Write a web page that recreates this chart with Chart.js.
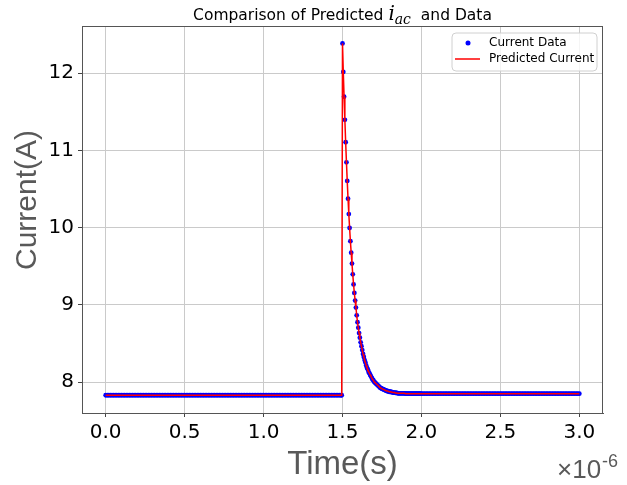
<!DOCTYPE html>
<html>
<head>
<meta charset="utf-8">
<script src="https://cdn.jsdelivr.net/npm/chart.js"></script>
<style>
  body { margin: 0; background: #fff; }
</style>
</head>
<body>
<canvas id="currentChart" width="627" height="485"></canvas>

<script>
  // time in microseconds (axis shows x 1e-6), current in A
  const timeBefore = [
    0.00, 0.01, 0.02, 0.03, 0.04, 0.05, 0.06, 0.07, 0.08, 0.09,
    0.10, 0.11, 0.12, 0.13, 0.14, 0.15, 0.16, 0.17, 0.18, 0.19,
    0.20, 0.21, 0.22, 0.23, 0.24, 0.25, 0.26, 0.27, 0.28, 0.29,
    0.30, 0.31, 0.32, 0.33, 0.34, 0.35, 0.36, 0.37, 0.38, 0.39,
    0.40, 0.41, 0.42, 0.43, 0.44, 0.45, 0.46, 0.47, 0.48, 0.49,
    0.50, 0.51, 0.52, 0.53, 0.54, 0.55, 0.56, 0.57, 0.58, 0.59,
    0.60, 0.61, 0.62, 0.63, 0.64, 0.65, 0.66, 0.67, 0.68, 0.69,
    0.70, 0.71, 0.72, 0.73, 0.74, 0.75, 0.76, 0.77, 0.78, 0.79,
    0.80, 0.81, 0.82, 0.83, 0.84, 0.85, 0.86, 0.87, 0.88, 0.89,
    0.90, 0.91, 0.92, 0.93, 0.94, 0.95, 0.96, 0.97, 0.98, 0.99,
    1.00, 1.01, 1.02, 1.03, 1.04, 1.05, 1.06, 1.07, 1.08, 1.09,
    1.10, 1.11, 1.12, 1.13, 1.14, 1.15, 1.16, 1.17, 1.18, 1.19,
    1.20, 1.21, 1.22, 1.23, 1.24, 1.25, 1.26, 1.27, 1.28, 1.29,
    1.30, 1.31, 1.32, 1.33, 1.34, 1.35, 1.36, 1.37, 1.38, 1.39,
    1.40, 1.41, 1.42, 1.43, 1.44, 1.45, 1.46, 1.47, 1.48, 1.49,
    1.495
  ];
  const currentBefore = [
    7.83, 7.83, 7.83, 7.83, 7.83, 7.83, 7.83, 7.83, 7.83, 7.83,
    7.83, 7.83, 7.83, 7.83, 7.83, 7.83, 7.83, 7.83, 7.83, 7.83,
    7.83, 7.83, 7.83, 7.83, 7.83, 7.83, 7.83, 7.83, 7.83, 7.83,
    7.83, 7.83, 7.83, 7.83, 7.83, 7.83, 7.83, 7.83, 7.83, 7.83,
    7.83, 7.83, 7.83, 7.83, 7.83, 7.83, 7.83, 7.83, 7.83, 7.83,
    7.83, 7.83, 7.83, 7.83, 7.83, 7.83, 7.83, 7.83, 7.83, 7.83,
    7.83, 7.83, 7.83, 7.83, 7.83, 7.83, 7.83, 7.83, 7.83, 7.83,
    7.83, 7.83, 7.83, 7.83, 7.83, 7.83, 7.83, 7.83, 7.83, 7.83,
    7.83, 7.83, 7.83, 7.83, 7.83, 7.83, 7.83, 7.83, 7.83, 7.83,
    7.83, 7.83, 7.83, 7.83, 7.83, 7.83, 7.83, 7.83, 7.83, 7.83,
    7.83, 7.83, 7.83, 7.83, 7.83, 7.83, 7.83, 7.83, 7.83, 7.83,
    7.83, 7.83, 7.83, 7.83, 7.83, 7.83, 7.83, 7.83, 7.83, 7.83,
    7.83, 7.83, 7.83, 7.83, 7.83, 7.83, 7.83, 7.83, 7.83, 7.83,
    7.83, 7.83, 7.83, 7.83, 7.83, 7.83, 7.83, 7.83, 7.83, 7.83,
    7.83, 7.83, 7.83, 7.83, 7.83, 7.83, 7.83, 7.83, 7.83, 7.83,
    7.83
  ];

  const timeSpike = [
    1.500, 1.505, 1.510, 1.515, 1.520, 1.525, 1.530, 1.535, 1.540, 1.545,
    1.550, 1.555, 1.560, 1.565, 1.570, 1.575, 1.580, 1.585, 1.590, 1.595,
    1.600, 1.605, 1.610, 1.615, 1.620, 1.625, 1.630, 1.635, 1.640, 1.645,
    1.650, 1.655, 1.660, 1.665, 1.670, 1.675, 1.680, 1.685, 1.690, 1.695,
    1.700, 1.705, 1.710, 1.715, 1.720, 1.725, 1.730, 1.735, 1.740, 1.745,
    1.750, 1.755, 1.760, 1.765, 1.770, 1.775, 1.780, 1.785, 1.790, 1.795,
    1.800, 1.805, 1.810, 1.815, 1.820, 1.825, 1.830, 1.835, 1.840, 1.845,
    1.850, 1.855, 1.860, 1.865, 1.870, 1.875, 1.880, 1.885, 1.890, 1.895,
    1.900, 1.905, 1.910, 1.915, 1.920, 1.925, 1.930, 1.935, 1.940, 1.945,
    1.950, 1.955, 1.960, 1.965, 1.970, 1.975, 1.980, 1.985, 1.990, 1.995,
    2.000
  ];
  const currentSpike = [
    12.385, 12.015, 11.695, 11.395, 11.105, 10.845, 10.605, 10.375, 10.175, 9.995,
    9.825, 9.675, 9.535, 9.395, 9.265, 9.155, 9.055, 8.965, 8.865, 8.775,
    8.705, 8.635, 8.575, 8.515, 8.465, 8.415, 8.365, 8.325, 8.285, 8.255,
    8.215, 8.185, 8.165, 8.135, 8.115, 8.095, 8.075, 8.055, 8.035, 8.025,
    8.005, 7.995, 7.985, 7.975, 7.965, 7.955, 7.945, 7.935, 7.925, 7.920,
    7.915, 7.910, 7.905, 7.900, 7.895, 7.890, 7.885, 7.885, 7.880, 7.875,
    7.875, 7.875, 7.870, 7.870, 7.865, 7.865, 7.865, 7.860, 7.860, 7.860,
    7.855, 7.855, 7.855, 7.855, 7.855, 7.855, 7.855, 7.855, 7.855, 7.855,
    7.850, 7.850, 7.850, 7.850, 7.850, 7.850, 7.850, 7.850, 7.850, 7.850,
    7.850, 7.850, 7.850, 7.850, 7.850, 7.850, 7.850, 7.850, 7.850, 7.850,
    7.850
  ];

  const timeAfter = [
    2.01, 2.02, 2.03, 2.04, 2.05, 2.06, 2.07, 2.08, 2.09, 2.10,
    2.11, 2.12, 2.13, 2.14, 2.15, 2.16, 2.17, 2.18, 2.19, 2.20,
    2.21, 2.22, 2.23, 2.24, 2.25, 2.26, 2.27, 2.28, 2.29, 2.30,
    2.31, 2.32, 2.33, 2.34, 2.35, 2.36, 2.37, 2.38, 2.39, 2.40,
    2.41, 2.42, 2.43, 2.44, 2.45, 2.46, 2.47, 2.48, 2.49, 2.50,
    2.51, 2.52, 2.53, 2.54, 2.55, 2.56, 2.57, 2.58, 2.59, 2.60,
    2.61, 2.62, 2.63, 2.64, 2.65, 2.66, 2.67, 2.68, 2.69, 2.70,
    2.71, 2.72, 2.73, 2.74, 2.75, 2.76, 2.77, 2.78, 2.79, 2.80,
    2.81, 2.82, 2.83, 2.84, 2.85, 2.86, 2.87, 2.88, 2.89, 2.90,
    2.91, 2.92, 2.93, 2.94, 2.95, 2.96, 2.97, 2.98, 2.99, 3.00
  ];
  const currentAfter = [
    7.85, 7.85, 7.85, 7.85, 7.85, 7.85, 7.85, 7.85, 7.85, 7.85,
    7.85, 7.85, 7.85, 7.85, 7.85, 7.85, 7.85, 7.85, 7.85, 7.85,
    7.85, 7.85, 7.85, 7.85, 7.85, 7.85, 7.85, 7.85, 7.85, 7.85,
    7.85, 7.85, 7.85, 7.85, 7.85, 7.85, 7.85, 7.85, 7.85, 7.85,
    7.85, 7.85, 7.85, 7.85, 7.85, 7.85, 7.85, 7.85, 7.85, 7.85,
    7.85, 7.85, 7.85, 7.85, 7.85, 7.85, 7.85, 7.85, 7.85, 7.85,
    7.85, 7.85, 7.85, 7.85, 7.85, 7.85, 7.85, 7.85, 7.85, 7.85,
    7.85, 7.85, 7.85, 7.85, 7.85, 7.85, 7.85, 7.85, 7.85, 7.85,
    7.85, 7.85, 7.85, 7.85, 7.85, 7.85, 7.85, 7.85, 7.85, 7.85,
    7.85, 7.85, 7.85, 7.85, 7.85, 7.85, 7.85, 7.85, 7.85, 7.85
  ];

  const xTickValues = [0.0, 0.5, 1.0, 1.5, 2.0, 2.5, 3.0];
  const yTickValues = [8, 9, 10, 11, 12];

  const timeAll = timeBefore.concat(timeSpike, timeAfter);
  const measured = currentBefore.concat(currentSpike, currentAfter);
  const predicted = measured.slice();

  const toPoints = (ys) => timeAll.map((t, i) => ({ x: t, y: ys[i] }));

  // frame, titles, legend (matplotlib look)
  const decorations = {
    id: "decorations",
    afterDraw(chart) {
      const ctx = chart.ctx;
      const a = chart.chartArea;
      ctx.save();

      // box around the axes
      ctx.strokeStyle = "#555555";
      ctx.lineWidth = 1;
      ctx.strokeRect(a.left + 0.5, a.top + 0.5, a.right - a.left - 1, a.bottom - a.top);

      // title with math part
      const cx = (a.left + a.right) / 2;
      const baseY = 20;
      const partA = "Comparison of Predicted ";
      const partC = "  and Data";
      ctx.fillStyle = "#000";
      ctx.textBaseline = "alphabetic";
      ctx.font = "15.5px 'DejaVu Sans'";
      const wA = ctx.measureText(partA).width;
      const wC = ctx.measureText(partC).width;
      ctx.font = "italic 20px 'DejaVu Serif'";
      const wI = ctx.measureText("i").width;
      ctx.font = "italic 14px 'DejaVu Serif'";
      const wS = ctx.measureText("ac").width;
      let x0 = cx - (wA + wI + wS + wC) / 2;
      ctx.font = "15.5px 'DejaVu Sans'";
      ctx.textAlign = "left";
      ctx.fillText(partA, x0, baseY);
      x0 += wA;
      ctx.font = "italic 20px 'DejaVu Serif'";
      ctx.fillText("i", x0, baseY);
      x0 += wI;
      ctx.font = "italic 14px 'DejaVu Serif'";
      ctx.fillText("ac", x0, baseY + 4);
      x0 += wS;
      ctx.font = "15.5px 'DejaVu Sans'";
      ctx.fillText(partC, x0, baseY);

      // axis titles
      ctx.fillStyle = "#595959";
      ctx.font = "33px 'Liberation Sans'";
      ctx.textAlign = "center";
      ctx.textBaseline = "alphabetic";
      ctx.fillText("Time(s)", cx, 474);

      ctx.save();
      ctx.translate(36, 200);
      ctx.rotate(-Math.PI / 2);
      ctx.font = "30px 'Liberation Sans'";
      ctx.textBaseline = "alphabetic";
      ctx.fillText("Current(A)", 0, 0);
      ctx.restore();

      // offset text x10^-6
      ctx.textAlign = "left";
      ctx.font = "26px 'Liberation Sans'";
      ctx.fillText("\u00d710", 557, 478);
      const w10 = ctx.measureText("\u00d710").width;
      ctx.font = "18px 'Liberation Sans'";
      ctx.fillText("-6", 557 + w10 + 1, 467);

      // legend
      const lx = 452, ly = 33, lw = 145, lh = 38, r = 4;
      ctx.beginPath();
      ctx.moveTo(lx + r, ly);
      ctx.arcTo(lx + lw, ly, lx + lw, ly + lh, r);
      ctx.arcTo(lx + lw, ly + lh, lx, ly + lh, r);
      ctx.arcTo(lx, ly + lh, lx, ly, r);
      ctx.arcTo(lx, ly, lx + lw, ly, r);
      ctx.closePath();
      ctx.fillStyle = "rgba(255,255,255,0.8)";
      ctx.fill();
      ctx.strokeStyle = "#d0d0d0";
      ctx.lineWidth = 1;
      ctx.stroke();

      ctx.fillStyle = "#0000ff";
      ctx.beginPath();
      ctx.arc(468, 43, 2.5, 0, Math.PI * 2);
      ctx.fill();

      ctx.strokeStyle = "#ff0000";
      ctx.lineWidth = 1.5;
      ctx.beginPath();
      ctx.moveTo(455, 59);
      ctx.lineTo(480, 59);
      ctx.stroke();

      ctx.fillStyle = "#000";
      ctx.font = "12px 'DejaVu Sans'";
      ctx.textBaseline = "middle";
      ctx.fillText("Current Data", 489, 43);
      ctx.fillText("Predicted Current", 489, 59);

      ctx.restore();
    }
  };

  const ctx = document.getElementById("currentChart").getContext("2d");

  new Chart(ctx, {
    type: "scatter",
    data: {
      datasets: [
        {
          label: "Current Data",
          data: toPoints(measured),
          pointRadius: 2.4,
          pointBackgroundColor: "#0000ff",
          pointBorderWidth: 0,
          showLine: false,
          order: 2
        },
        {
          label: "Predicted Current",
          data: toPoints(predicted),
          showLine: true,
          borderColor: "#ff0000",
          borderWidth: 1.5,
          pointRadius: 0,
          tension: 0,
          order: 1
        }
      ]
    },
    options: {
      responsive: false,
      animation: false,
      layout: { padding: { left: 0, top: 26, right: 24, bottom: 0 } },
      plugins: {
        legend: { display: false },
        title: { display: false },
        tooltip: { enabled: false }
      },
      scales: {
        x: {
          type: "linear",
          min: -0.15,
          max: 3.15,
          afterBuildTicks: (scale) => {
            scale.ticks = xTickValues.map((v) => ({ value: v }));
          },
          afterFit: (scale) => { scale.height = 72; },
          ticks: {
            callback: (v) => Number(v).toFixed(1),
            color: "#000",
            font: { family: "DejaVu Sans", size: 20 },
            padding: 4,
            maxRotation: 0
          },
          grid: {
            color: "#cacaca",
            lineWidth: 1,
            tickColor: "#444",
            tickLength: 4
          },
          border: { display: true, color: "#555555", width: 1 }
        },
        y: {
          type: "linear",
          min: 7.6,
          max: 12.61,
          afterBuildTicks: (scale) => {
            scale.ticks = yTickValues.map((v) => ({ value: v }));
          },
          afterFit: (scale) => { scale.width = 82; },
          ticks: {
            color: "#000",
            font: { family: "DejaVu Sans", size: 20 },
            padding: 4
          },
          grid: {
            color: "#cacaca",
            lineWidth: 1,
            tickColor: "#444",
            tickLength: 4
          },
          border: { display: true, color: "#555555", width: 1 }
        }
      }
    },
    plugins: [decorations]
  });
</script>
</body>
</html>
